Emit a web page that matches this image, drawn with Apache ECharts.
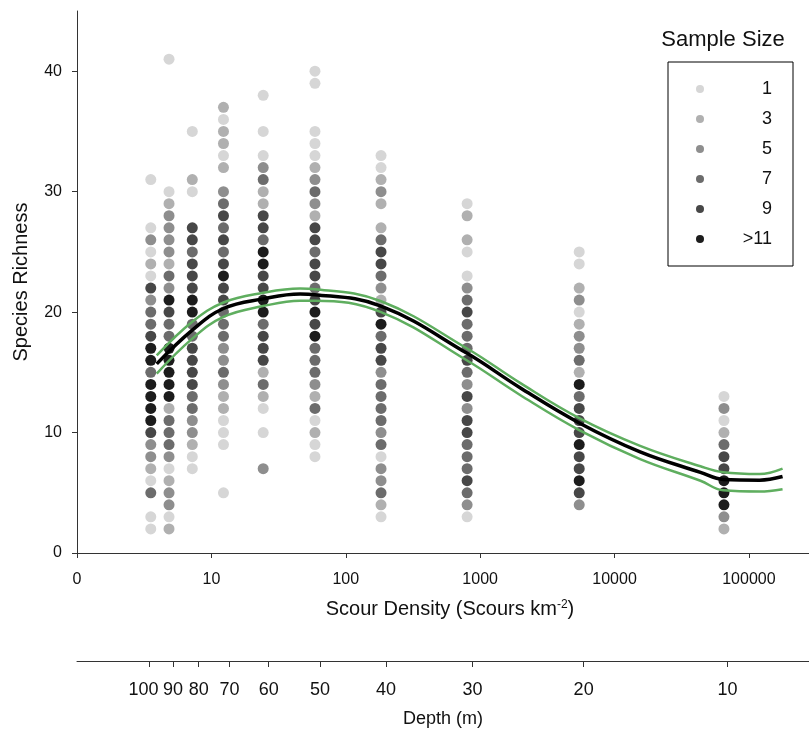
<!DOCTYPE html>
<html><head><meta charset="utf-8">
<script src="https://cdn.jsdelivr.net/npm/echarts@6/dist/echarts.min.js"></script>
<style>html,body{margin:0;padding:0;background:#fff}#c{width:809px;height:733px}</style>
</head><body><div id="c"></div>
<script>
// ---- data ----
const sampleSizeNames = ['1', '3', '5', '7', '9', '>11'];
const levelColors = ['#d6d6d6', '#b0b0b0', '#8e8e8e', '#6c6c6c', '#474747', '#1c1c1c'];

// scour density of each sampled column (Scours km^-2)
const columnDensity = [3.54, 4.84, 7.21, 12.3, 24.3, 59, 183, 800, 5460, 65200];

// species richness values for each column
const richness = [
  [31,27,26,25,24,23,22,21,20,19,18,17,16,15,14,13,12,11,10,9,8,7,6,5,3,2],
  [41,30,29,28,27,26,25,24,23,22,21,20,19,18,17,16,15,14,13,12,11,10,9,8,7,6,5,4,3,2],
  [35,31,30,27,26,25,24,23,22,21,20,19,18,17,16,15,14,13,12,11,10,9,8,7],
  [37,36,35,34,33,32,30,29,28,27,26,25,24,23,22,21,20,19,18,17,16,15,14,13,12,11,10,9,5],
  [38,35,33,32,31,30,29,28,27,26,25,24,23,22,21,20,19,18,17,16,15,14,13,12,10,7],
  [40,39,35,34,33,32,31,30,29,28,27,26,25,24,23,22,21,20,19,18,17,16,15,14,13,12,11,10,9,8],
  [33,32,31,30,29,27,26,25,24,23,22,21,20,19,18,17,16,15,14,13,12,11,10,9,8,7,6,5,4,3],
  [29,28,26,25,23,22,21,20,19,18,17,16,15,14,13,12,11,10,9,8,7,6,5,4,3],
  [25,24,22,21,20,19,18,17,16,15,14,13,12,11,10,9,8,7,6,5,4],
  [13,12,11,10,9,8,7,6,5,4,3,2]
];
// sample-size class (1..6 -> '1','3','5','7','9','>11') of each point
const sampleClass = [
  [1,1,3,1,2,1,5,3,4,4,5,6,6,4,6,6,6,6,5,3,3,2,1,4,1,1],
  [1,1,2,3,3,3,3,2,4,3,6,5,4,4,6,6,6,6,6,2,4,4,4,3,1,2,3,3,1,2],
  [1,2,1,5,5,4,5,5,5,6,6,4,4,5,5,5,5,4,4,3,3,2,1,1],
  [2,1,2,2,1,2,3,4,5,4,5,4,5,6,5,5,4,4,4,3,3,4,3,2,2,1,1,1,1],
  [1,1,1,3,4,2,2,5,5,4,6,6,5,5,6,6,4,5,5,5,2,4,2,1,1,3],
  [1,1,1,1,1,2,3,4,3,2,5,5,4,5,5,4,5,6,5,6,4,4,4,3,2,4,1,2,1,1],
  [1,1,2,3,2,2,4,5,5,4,3,2,5,6,4,5,5,3,4,4,4,4,3,4,1,3,3,4,2,1],
  [1,2,2,1,1,3,4,5,4,4,4,5,4,3,5,3,5,5,4,4,4,5,4,3,1],
  [1,1,2,3,1,2,3,3,4,2,6,4,5,5,5,6,5,5,6,5,3],
  [1,3,1,2,4,5,5,6,6,6,3,2]
];

// fitted curve and confidence band
const curveDensity = [3.92, 7.21, 12.3, 24.3, 45.7, 58.9, 183, 794, 1995, 5460, 15500, 43600, 64600, 120000, 178000];
const curveFit     = [15.7, 18.5, 20.3, 21.1, 21.5, 21.45, 20.5, 16.6, 13.7, 10.8, 8.4, 6.7, 6.1, 6.05, 6.35];
const curveUpper   = [16.4, 19.2, 20.8, 21.6, 21.95, 21.9, 20.9, 17.0, 14.1, 11.2, 8.9, 7.2, 6.7, 6.55, 7.0];
const curveLower   = [14.9, 17.8, 19.6, 20.5, 20.95, 20.95, 20.0, 16.0, 13.1, 10.2, 7.8, 6.0, 5.2, 5.1, 5.3];

// axis ticks
const densityTicks = [1, 10, 100, 1000, 10000, 100000];
const richnessTicks = [0, 10, 20, 30, 40];
const depthLabels = ['100', '90', '80', '70', '60', '50', '40', '30', '20', '10'];
const depthTickDensity = [3.47, 5.18, 8.04, 13.65, 26.7, 64.3, 199, 879, 5890, 69200];

// ---- chart ----
const FONT = "'Liberation Sans', Arial, sans-serif";
const xMin = 1, xMax = 280000;

const levelData = sampleSizeNames.map(() => []);
columnDensity.forEach((d, ci) => {
  richness[ci].forEach((r, pi) => {
    levelData[sampleClass[ci][pi] - 1].push([d, r]);
  });
});

const scatterSeries = sampleSizeNames.map((name, i) => ({
  name: name,
  type: 'scatter',
  data: levelData[i],
  symbol: 'circle',
  symbolSize: 11,
  itemStyle: { color: levelColors[i], opacity: 1 },
  z: 2,
  silent: true
}));

function curve(vals) {
  return curveDensity.map((d, i) => [d, vals[i]]);
}

const depthTickLog = depthTickDensity.map(v => Math.log10(v));

const option = {
  animation: false,
  backgroundColor: '#fff',
  textStyle: { fontFamily: FONT },
  title: {
    text: 'Sample Size', left: 723, top: 29, textAlign: 'center', padding: 0,
    textStyle: { fontFamily: FONT, fontSize: 22, fontWeight: 'normal', color: '#111' }
  },
  legend: {
    data: sampleSizeNames,
    orient: 'vertical',
    left: 668, top: 62,
    padding: [18, 21, 18, 28],
    itemGap: 12,
    itemWidth: 8, itemHeight: 8,
    icon: 'circle',
    borderColor: '#000', borderWidth: 1,
    selectedMode: false,
    formatter: '{a|{name}}',
    textStyle: {
      fontFamily: FONT,
      rich: { a: { fontFamily: FONT, fontSize: 18, width: 63, align: 'right', color: '#111' } }
    }
  },
  grid: { left: 77, right: 0, top: 11, bottom: 178, containLabel: false },
  xAxis: [
    {
      type: 'log', logBase: 10, min: xMin, max: xMax,
      position: 'bottom',
      name: 'Scour Density (Scours km{sup|-2})',
      nameLocation: 'middle', nameGap: 46,
      nameTextStyle: {
        fontFamily: FONT, fontSize: 20, color: '#111', padding: [0, 0, 0, 14],
        rich: { sup: { fontFamily: FONT, fontSize: 12, verticalAlign: 'top', color: '#111' } }
      },
      axisLine: { show: true, onZero: false, lineStyle: { color: '#333', width: 1 } },
      axisTick: { show: true, inside: false, length: 5, customValues: densityTicks, lineStyle: { color: '#333' } },
      axisLabel: {
        margin: 19, fontFamily: FONT, fontSize: 16, color: '#111',
        customValues: densityTicks,
        showMinLabel: true,
        formatter: v => {
          const r = Math.round(v);
          if (densityTicks.indexOf(r) < 0) return '';
          return r === 1 ? '0' : String(r);
        }
      },
      splitLine: { show: false },
      minorTick: { show: false }
    },
    {
      type: 'value', min: 0, max: Math.log10(xMax),
      position: 'bottom', offset: 108,
      name: 'Depth (m)',
      nameLocation: 'middle', nameGap: 49,
      nameTextStyle: { fontFamily: FONT, fontSize: 18, color: '#111' },
      axisLine: { show: true, onZero: false, lineStyle: { color: '#333', width: 1 } },
      axisTick: { show: true, inside: false, length: 6, customValues: depthTickLog, lineStyle: { color: '#333' } },
      axisLabel: {
        margin: 20, fontFamily: FONT, fontSize: 18, color: '#111',
        customValues: depthTickLog,
        showMinLabel: true, showMaxLabel: true, hideOverlap: false,
        formatter: v => {
          let best = 0, bd = Infinity;
          depthTickLog.forEach((t, i) => { const d = Math.abs(t - v); if (d < bd) { bd = d; best = i; } });
          if (bd > 1e-6) return '';
          // the first label sits left of its tick, as in the reference
          return best === 0 ? '{f|' + depthLabels[best] + '}' : depthLabels[best];
        },
        rich: { f: { fontFamily: FONT, fontSize: 18, color: '#111', width: 18, align: 'right' } }
      },
      splitLine: { show: false }
    }
  ],
  yAxis: {
    type: 'value', min: 0, max: 45,
    name: 'Species Richness',
    nameLocation: 'middle', nameGap: 46,
    nameTextStyle: { fontFamily: FONT, fontSize: 20, color: '#111' },
    axisLine: { show: true, onZero: false, lineStyle: { color: '#333', width: 1 } },
    axisTick: { show: true, inside: false, length: 5, customValues: richnessTicks, lineStyle: { color: '#333' } },
    axisLabel: { margin: 15, fontFamily: FONT, fontSize: 16, color: '#111', customValues: richnessTicks },
    splitLine: { show: false }
  },
  series: scatterSeries.concat([
    {
      name: 'upper', type: 'line', data: curve(curveUpper), smooth: 0.4, showSymbol: false, symbol: 'none',
      lineStyle: { color: '#5fae5f', width: 2.5 }, z: 3, silent: true
    },
    {
      name: 'lower', type: 'line', data: curve(curveLower), smooth: 0.4, showSymbol: false, symbol: 'none',
      lineStyle: { color: '#5fae5f', width: 2.5 }, z: 3, silent: true
    },
    {
      name: 'fit', type: 'line', data: curve(curveFit), smooth: 0.4, showSymbol: false, symbol: 'none',
      lineStyle: { color: '#000', width: 3.5 }, z: 4, silent: true
    }
  ])
};

const chart = echarts.init(document.getElementById('c'), null, { renderer: 'canvas' });
chart.setOption(option);
</script>
</body></html>
